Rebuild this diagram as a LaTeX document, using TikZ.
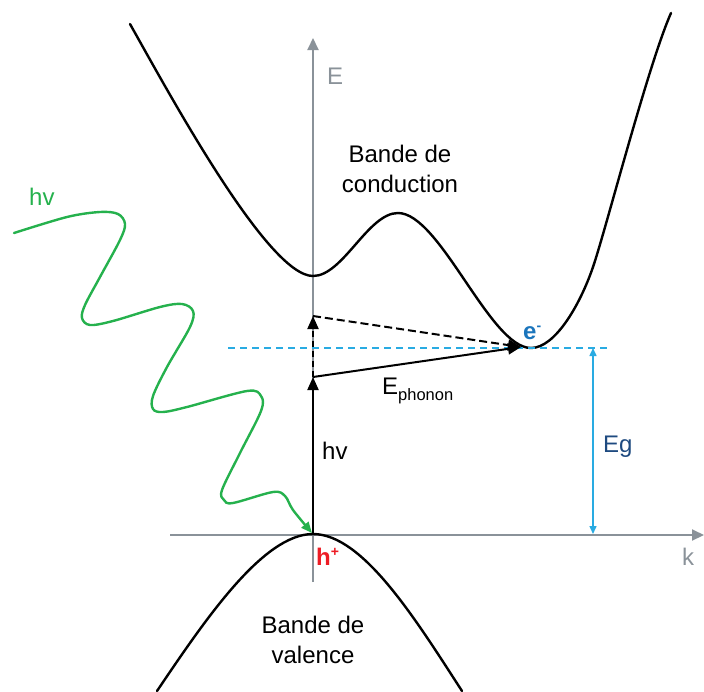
\documentclass[tikz,border=0pt]{standalone}
\usepackage{fontspec}
\setmainfont{Liberation Sans}
\usetikzlibrary{arrows.meta}
\definecolor{axisgray}{RGB}{138,146,153}
\definecolor{wavegreen}{RGB}{37,177,77}
\definecolor{lightblue}{RGB}{41,171,226}
\definecolor{eblue}{RGB}{27,117,188}
\definecolor{hred}{RGB}{237,28,36}
\definecolor{egblue}{RGB}{30,74,128}
\newcommand{\supsmall}[1]{\raisebox{9pt}{\fontsize{14}{16}\selectfont #1}}
\newcommand{\subsmall}[1]{\raisebox{-6pt}{\fontsize{16.5}{18}\selectfont #1}}
\begin{document}
\begin{tikzpicture}[x=1pt,y=-1pt,
  lbl/.style={inner sep=0pt, anchor=base west, font=\fontsize{24}{30}\selectfont},
  blocklbl/.style={inner sep=0pt, align=center, font=\fontsize{24}{30}\selectfont},
  band/.style={line width=2.4pt, black, line join=round, line cap=round},
  axisline/.style={line width=2pt, axisgray, -{Triangle[length=12pt,width=11pt]}},
  blk/.style={line width=2pt, black, -{Triangle[length=13pt,width=11pt]}},
  wave/.style={line width=2.4pt, wavegreen, line cap=round, -{Triangle[length=11pt,width=9pt]}},
]
\useasboundingbox (0,0) rectangle (704,691);

% axes
\coordinate (Ebot) at (313,582);
\coordinate (Etop) at (313,38);
\coordinate (kleft) at (170,535);
\coordinate (kright) at (704,535);
\draw[axisline] (Ebot) -- (Etop);
\draw[axisline] (kleft) -- (kright);

% conduction band
\coordinate (C0) at (130,24);
\coordinate (Cmin1) at (313,276);
\coordinate (Cmax) at (398,213);
\coordinate (Cmin2) at (531,348);
\coordinate (Cmid) at (593,267);
\coordinate (C1) at (671,13);
\draw[band] (C0) .. controls (170,95) and (268,276) .. (Cmin1)
  .. controls (343,276) and (368,213) .. (Cmax)
  .. controls (440,213) and (490,348) .. (Cmin2)
  .. controls (555,348) and (580,305) .. (Cmid)
  .. controls (606,229) and (648,65) .. (C1);

% valence band
\coordinate (VL) at (157,691);
\coordinate (VT) at (313,534);
\coordinate (VR) at (462,691);
\draw[band] (VL) .. controls (205,620) and (263,534) .. (VT)
            .. controls (363,534) and (416,620) .. (VR);

% level line and gap
\coordinate (dl) at (228,348);
\coordinate (dr) at (610,348);
\draw[lightblue, line width=1.3pt, dash pattern=on 7pt off 5pt] (dl) -- (dr);
\coordinate (gtop) at (593,348);
\coordinate (gbot) at (593,534);
\draw[lightblue, line width=1.5pt, {Triangle[length=8pt,width=7pt]}-{Triangle[length=8pt,width=7pt]}] (gtop) -- (gbot);

% transitions
\coordinate (O) at (313,535);
\coordinate (A) at (313,377);
\coordinate (B) at (313,316);
\coordinate (C) at (521,347);
\draw[blk] (O) -- (A);
\draw[blk, dash pattern=on 6pt off 4pt] (A) -- (B);
\draw[blk, dash pattern=on 8pt off 4pt] (B) -- (C);
\draw[blk] (A) -- (C);

% photon wave
\draw[wave] plot[smooth, tension=0.55] coordinates {
  (14,233) (67,217) (100,212) (118,214) (125,224) (120,240) (100,277)
  (85,305) (82,318) (90,325) (113,321) (160,307) (182,304) (193,311)
  (190,327) (167,367) (153,396) (153,409) (163,412) (187,407) (247,391)
  (261,396) (261,411) (240,453) (222,490) (224,500) (233,503) (273,492)
  (285,496) (293,510) (312,533)};

% labels
\node[lbl, text=axisgray] (Elab) at (327,84) {E};
\node[lbl, text=axisgray] (klab) at (682,565) {k};
\node[blocklbl] (cb) at (400,169) {Bande de\\conduction};
\node[blocklbl] (vb) at (313,640) {Bande de\\valence};
\node[lbl, text=hred, font=\fontsize{24}{30}\selectfont\bfseries] (hp) at (316,565) {h\supsmall{+}};
\node[lbl, text=eblue, font=\fontsize{24}{30}\selectfont\bfseries] (em) at (523,339) {e\supsmall{-}};
\node[lbl] (hv) at (322,459) {hv};
\node[lbl, text=wavegreen] (hvg) at (29,205) {hv};
\node[lbl, text=egblue] (eg) at (603,452) {Eg};
\node[lbl] (eph) at (382,394) {E\subsmall{phonon}};
\end{tikzpicture}
\end{document}
